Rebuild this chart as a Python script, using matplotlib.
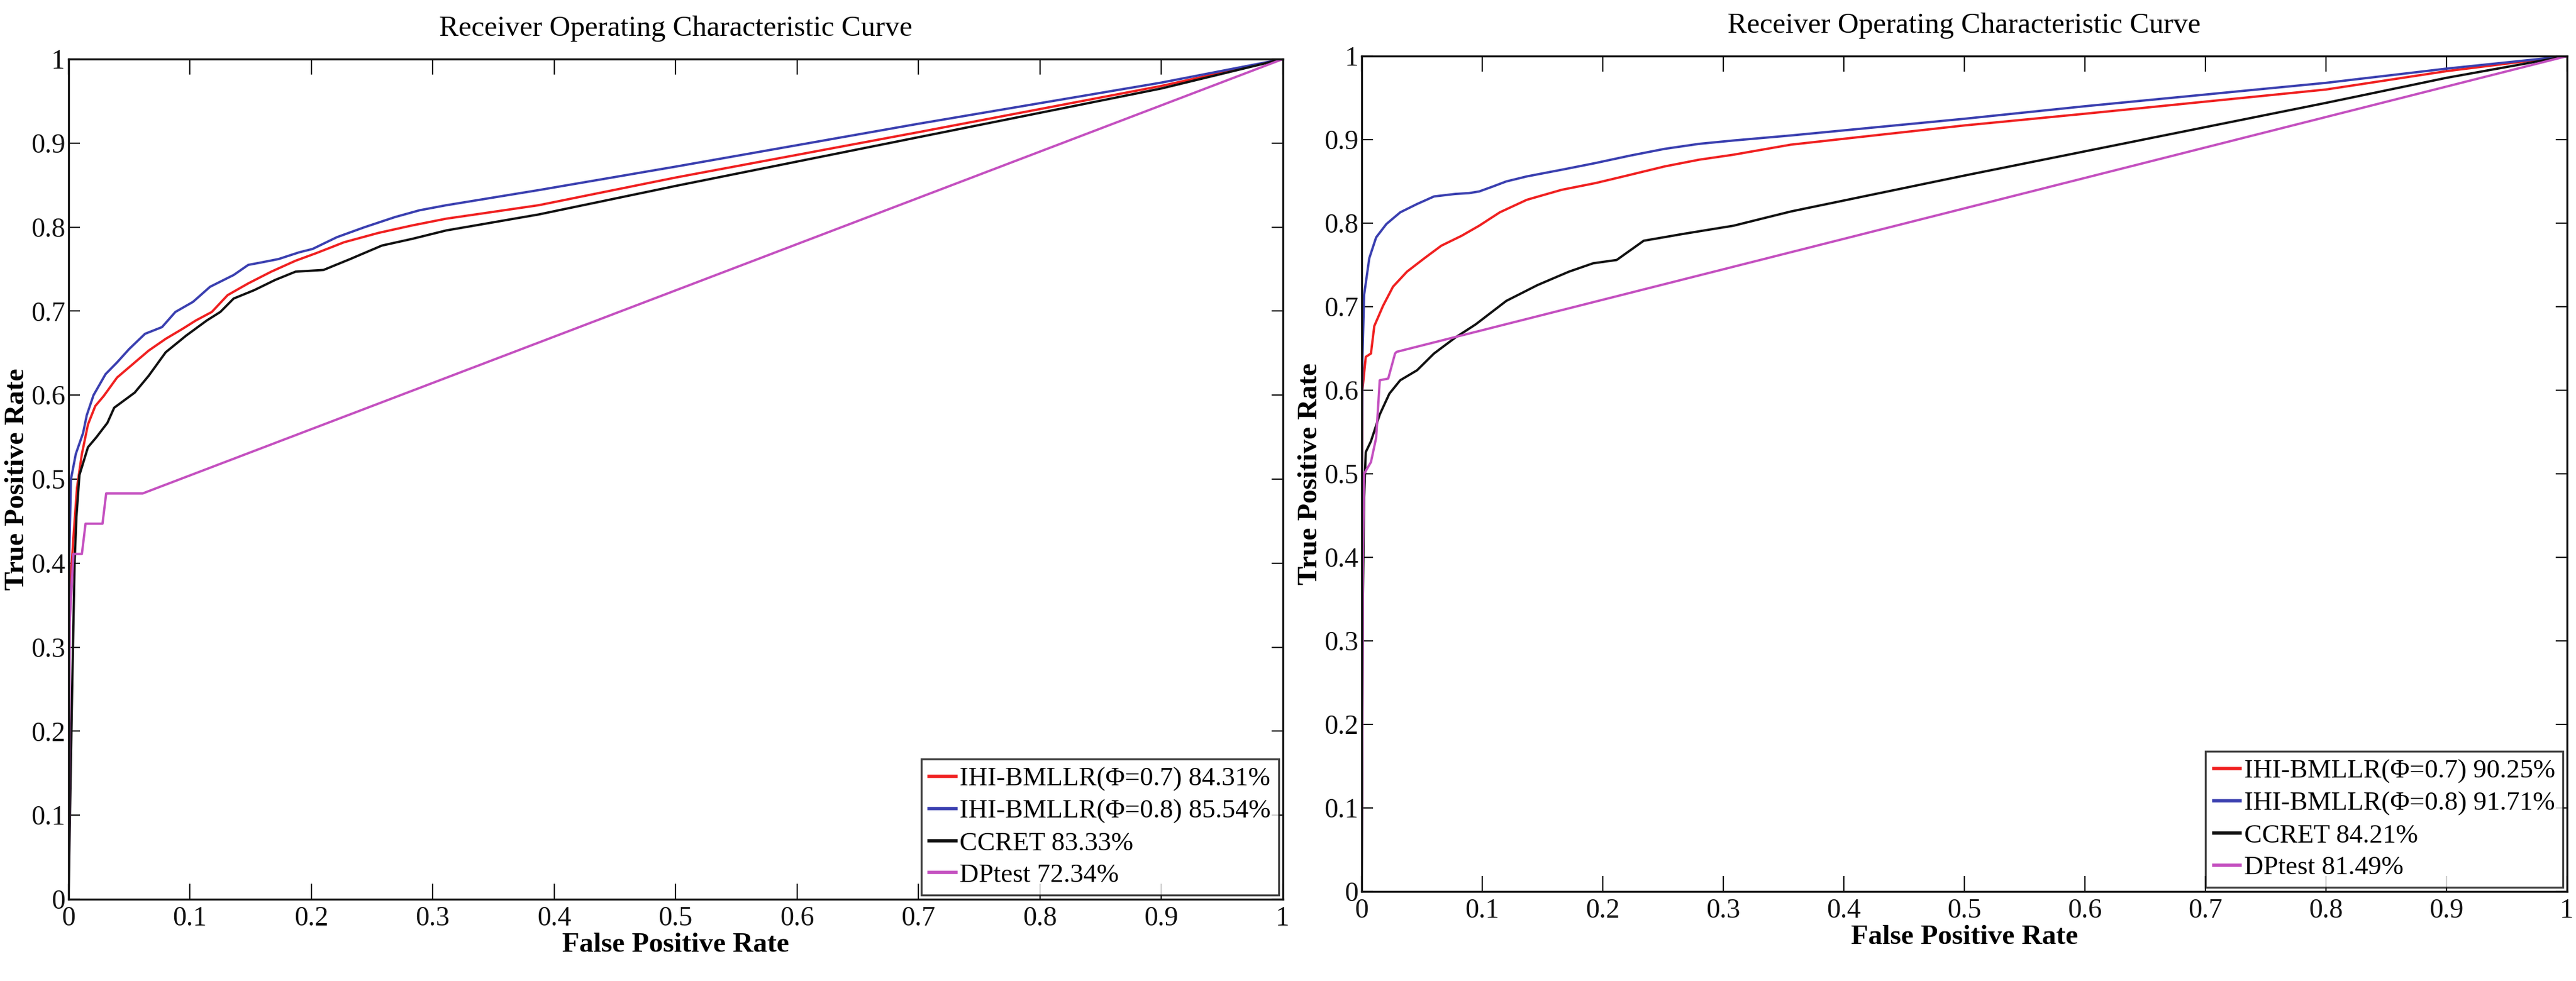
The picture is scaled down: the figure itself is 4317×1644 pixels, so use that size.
import matplotlib
matplotlib.use("Agg")
import matplotlib.pyplot as plt
import numpy as np

plt.rcParams['font.family'] = ['Liberation Serif', 'DejaVu Serif']

# ---- left panel data ----
left_red_fpr = [0, 0.0005, 0.004, 0.007, 0.011, 0.016, 0.022, 0.029, 0.040, 0.053, 0.066, 0.080,
                0.094, 0.105, 0.118, 0.131, 0.148, 0.167, 0.187, 0.204, 0.227, 0.255, 0.283, 0.311,
                0.387, 0.5, 0.7, 0.9, 1.0]
left_red_tpr = [0, 0.35, 0.43, 0.49, 0.53, 0.565, 0.587, 0.599, 0.621, 0.637, 0.653, 0.667,
                0.679, 0.689, 0.699, 0.719, 0.733, 0.747, 0.760, 0.769, 0.782, 0.793, 0.802, 0.810,
                0.826, 0.859, 0.913, 0.968, 1.0]

left_blue_fpr = [0, 0.0005, 0.002, 0.006, 0.012, 0.015, 0.0206, 0.0305, 0.040, 0.050, 0.063, 0.077,
                 0.088, 0.1025, 0.1166, 0.136, 0.148, 0.159, 0.173, 0.190, 0.201, 0.221, 0.244, 0.269,
                 0.289, 0.311, 0.387, 0.5, 0.7, 0.9, 1.0]
left_blue_tpr = [0, 0.40, 0.50, 0.53, 0.555, 0.576, 0.600, 0.625, 0.639, 0.655, 0.673, 0.681,
                 0.699, 0.711, 0.729, 0.743, 0.755, 0.758, 0.762, 0.770, 0.774, 0.788, 0.800, 0.812,
                 0.820, 0.826, 0.844, 0.872, 0.923, 0.972, 1.0]

left_black_fpr = [0, 0.003, 0.005, 0.0065, 0.009, 0.016, 0.023, 0.032, 0.0376, 0.0545, 0.066, 0.080,
                  0.097, 0.114, 0.125, 0.136, 0.153, 0.170, 0.187, 0.210, 0.232, 0.258, 0.283, 0.311,
                  0.387, 0.5, 0.7, 0.9, 1.0]
left_black_tpr = [0, 0.25, 0.40, 0.455, 0.505, 0.538, 0.550, 0.567, 0.585, 0.603, 0.623, 0.651,
                  0.671, 0.689, 0.699, 0.715, 0.725, 0.737, 0.747, 0.749, 0.762, 0.778, 0.786, 0.796,
                  0.815, 0.849, 0.907, 0.965, 1.0]

left_mag_fpr = [0, 0.001, 0.004, 0.011, 0.014, 0.028, 0.031, 0.061, 1.0]
left_mag_tpr = [0, 0.33, 0.411, 0.411, 0.447, 0.447, 0.483, 0.483, 1.0]

left_labels = ["IHI-BMLLR(Φ=0.7) 84.31%", "IHI-BMLLR(Φ=0.8) 85.54%", "CCRET 83.33%", "DPtest 72.34%"]

# ---- right panel data ----
right_red_fpr = [0, 0.0003, 0.0006, 0.0034, 0.0077, 0.0105, 0.0177, 0.026, 0.0376, 0.052, 0.066,
                 0.083, 0.0975, 0.1146, 0.137, 0.166, 0.194, 0.223, 0.2515, 0.280, 0.3085, 0.356,
                 0.5, 0.6, 0.8, 0.9, 1.0]
right_red_tpr = [0, 0.50, 0.60, 0.64, 0.644, 0.677, 0.701, 0.724, 0.742, 0.758, 0.773,
                 0.785, 0.797, 0.813, 0.828, 0.840, 0.848, 0.858, 0.868, 0.876, 0.882, 0.894,
                 0.917, 0.931, 0.960, 0.982, 1.0]

right_blue_fpr = [0, 0.0003, 0.0006, 0.002, 0.0063, 0.012, 0.0205, 0.032, 0.046, 0.060, 0.0776,
                  0.089, 0.0975, 0.109, 0.120, 0.137, 0.166, 0.194, 0.223, 0.2515, 0.280, 0.3085,
                  0.356, 0.5, 0.6, 0.8, 0.9, 1.0]
right_blue_tpr = [0, 0.55, 0.636, 0.714, 0.758, 0.783, 0.799, 0.813, 0.823, 0.832, 0.835,
                  0.836, 0.838, 0.844, 0.850, 0.856, 0.864, 0.872, 0.881, 0.889, 0.895, 0.899,
                  0.905, 0.925, 0.940, 0.968, 0.985, 1.0]

right_black_fpr = [0, 0.001, 0.002, 0.0034, 0.0077, 0.015, 0.023, 0.032, 0.046, 0.060, 0.0776,
                   0.0947, 0.120, 0.146, 0.172, 0.192, 0.2116, 0.234, 0.266, 0.3085, 0.356,
                   0.5, 0.7, 0.8, 0.9, 1.0]
right_black_tpr = [0, 0.35, 0.47, 0.526, 0.539, 0.571, 0.596, 0.612, 0.624, 0.644, 0.663,
                   0.679, 0.707, 0.726, 0.742, 0.752, 0.756, 0.779, 0.787, 0.797, 0.814,
                   0.857, 0.915, 0.944, 0.974, 1.0]

right_mag_fpr = [0, 0.001, 0.002, 0.0077, 0.012, 0.015, 0.022, 0.0277, 0.029, 1.0]
right_mag_tpr = [0, 0.40, 0.50, 0.514, 0.543, 0.612, 0.614, 0.644, 0.646, 1.0]

right_labels = ["IHI-BMLLR(Φ=0.7) 90.25%", "IHI-BMLLR(Φ=0.8) 91.71%", "CCRET 84.21%", "DPtest 81.49%"]

ticks = [0, 0.1, 0.2, 0.3, 0.4, 0.5, 0.6, 0.7, 0.8, 0.9, 1]
tick_labels = ["0", "0.1", "0.2", "0.3", "0.4", "0.5", "0.6", "0.7", "0.8", "0.9", "1"]

colors = ["#f02020", "#3a3fb0", "#111111", "#c450c0"]

fig = plt.figure(figsize=(43.17, 16.44), dpi=100)
ax_l = fig.add_axes([0.0266, 0.0833, 0.4714, 0.8565])
ax_r = fig.add_axes([0.5286, 0.0912, 0.4679, 0.8516])


def draw_panel(ax, curves, labels):
    for (fx, ty), c, lab in zip(curves, colors, labels):
        ax.plot(fx, ty, color=c, linewidth=2.8, label=lab)
    ax.set_xlim(0, 1)
    ax.set_ylim(0, 1)
    ax.set_xticks(ticks)
    ax.set_xticklabels(tick_labels)
    ax.set_yticks(ticks)
    ax.set_yticklabels(tick_labels)
    ax.tick_params(axis='both', direction='in', top=True, right=True,
                   labelsize=33, width=1.6, colors='#111111')
    ax.tick_params(axis='x', length=19, pad=8)
    ax.tick_params(axis='y', length=14, pad=4)
    for s in ax.spines.values():
        s.set_linewidth(2.4)
        s.set_color('#111111')
    ax.set_title("Receiver Operating Characteristic Curve", fontsize=35, pad=28)
    ax.set_xlabel("False Positive Rate", fontsize=34, fontweight='bold', labelpad=2)
    ax.set_ylabel("True Positive Rate", fontsize=34, fontweight='bold')
    ax.yaxis.set_label_coords(-0.032, 0.5)
    leg = ax.legend(loc='lower right', fontsize=32, frameon=True, fancybox=False,
                    handlelength=1.0, handletextpad=0.15, labelspacing=0.3,
                    borderpad=0.3, borderaxespad=0.15)
    leg.get_frame().set_edgecolor('#111111')
    leg.get_frame().set_linewidth(2.4)
    for line in leg.get_lines():
        line.set_linewidth(4)


draw_panel(ax_l,
           [(left_red_fpr, left_red_tpr), (left_blue_fpr, left_blue_tpr),
            (left_black_fpr, left_black_tpr), (left_mag_fpr, left_mag_tpr)],
           left_labels)
draw_panel(ax_r,
           [(right_red_fpr, right_red_tpr), (right_blue_fpr, right_blue_tpr),
            (right_black_fpr, right_black_tpr), (right_mag_fpr, right_mag_tpr)],
           right_labels)

fig.savefig("out.png", dpi=100, facecolor='white')
